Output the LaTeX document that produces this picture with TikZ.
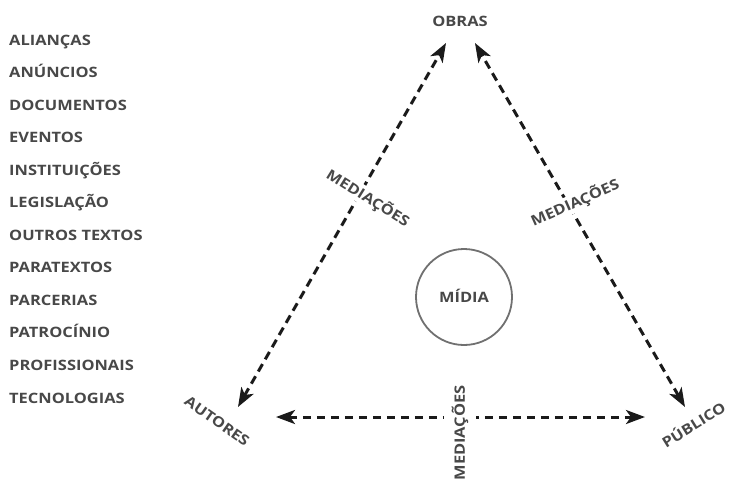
\documentclass[tikz,border=0pt]{standalone}
\usepackage{fontspec}
\setmainfont{Open Sans}
\newfontfamily\lblfont{Open Sans Bold}[FakeStretch=1.15]
\usetikzlibrary{arrows.meta}
\definecolor{txt}{HTML}{484848}
\definecolor{arr}{HTML}{1A1A1A}
\definecolor{ring}{HTML}{707070}
\tikzset{
  lbl/.style={font=\lblfont\fontsize{14.3}{16}\selectfont, text=txt, inner sep=1pt},
  item/.style={lbl, anchor=base west},
  medarrow/.style={draw=arr, line width=3pt, dash pattern=on 8.5pt off 5.5pt,
    {Stealth[length=19pt,width=14pt,inset=5pt]}-{Stealth[length=19pt,width=14pt,inset=5pt]}},
}
\begin{document}
\begin{tikzpicture}[x=1pt,y=-1pt]
\useasboundingbox (0,0) rectangle (730,483);
% list
\foreach \t [count=\i from 0] in {ALIANÇAS,ANÚNCIOS,DOCUMENTOS,EVENTOS,INSTITUIÇÕES,LEGISLAÇÃO,OUTROS TEXTOS,PARATEXTOS,PARCERIAS,PATROCÍNIO,PROFISSIONAIS,TECNOLOGIAS}
  \node[item] (item\i) at (8,{45+32.55*\i}) {\t};
% vertices
\node[lbl] (obras) at (460,21) {OBRAS};
\node[lbl, rotate=-35] (autores) at (217,421) {AUTORES};
\node[lbl, rotate=32] (publico) at (693,424) {PÚBLICO};
% arrow end points
\coordinate (oL) at (446,43);
\coordinate (oR) at (475,43);
\coordinate (aT) at (238,407);
\coordinate (pT) at (685,407);
\coordinate (aH) at (276,417);
\coordinate (pH) at (645,417);
% arrows
\draw[medarrow] (aT) -- (oL);
\draw[medarrow] (pT) -- (oR);
\draw[medarrow] (aH) -- (pH);
% mediation labels
\node[lbl, rotate=-32, fill=white] (medL) at (368,198) {MEDIAÇÕES};
\node[lbl, rotate=24, fill=white] (medR) at (575,203) {MEDIAÇÕES};
\node[lbl, rotate=90, fill=white, minimum height=32pt] (medB) at (460,433) {MEDIAÇÕES};
% media circle
\node[circle, draw=ring, line width=1.8pt, minimum size=96pt, lbl, inner sep=0pt] (midia) at (464,297) {\raisebox{3pt}{MÍDIA}};
\end{tikzpicture}
\end{document}
